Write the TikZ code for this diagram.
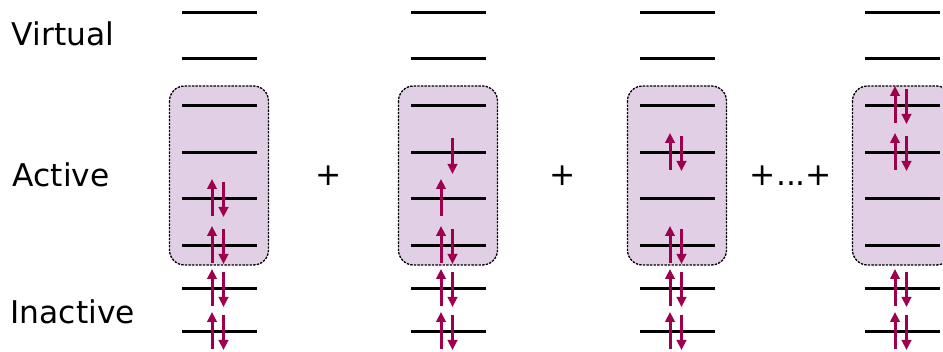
\documentclass[tikz,border=0pt]{standalone}
\usepackage{fontspec}
\setmainfont{DejaVu Sans}
\usetikzlibrary{arrows.meta}
\definecolor{spin}{RGB}{158,0,78}
\definecolor{actfill}{RGB}{225,208,229}
\newcommand\spinup[2]{\draw[spinarrow] (#1-7.5,#2+17) -- (#1-7.5,#2-20);}
\newcommand\spindown[2]{\draw[spinarrow] (#1+4,#2-17) -- (#1+4,#2+18);}
\newcommand\spinpair[2]{\spinup{#1}{#2}\spindown{#1}{#2}}
\begin{document}
\begin{tikzpicture}[x=1pt,y=-1pt,
  lvl/.style={line width=3pt},
  spinarrow/.style={draw=spin, line width=3pt, -{Triangle[length=10pt,width=9.5pt]}},
  actbox/.style={draw=black, fill=actfill, line width=1.3pt, dash pattern=on 2.4pt off 1.2pt, rounded corners=15pt},
  lab/.style={font=\fontsize{31.3}{36}\selectfont, inner sep=0pt, anchor=base west},
  plus/.style={font=\fontsize{31.3}{36}\selectfont, inner sep=0pt, anchor=base}]
\useasboundingbox (0,0) rectangle (943,352);
\clip (0,0) rectangle (943,352);

% labels
\node[lab] (virt) at (11.5,45.5) {Virtual};
\node[lab] (act) at (12.5,186.5) {Active};
\node[lab] (inact) at (10.5,323.5) {Inactive};
\node[plus] (p1) at (328.5,186) {+};
\node[plus] (p2) at (562.5,186) {+};
\node[plus] (p3) at (791,186) {+...+};

% active-space boxes
\foreach \cx in {219.5,448.5,677.5,902.5}{
  \draw[actbox] (\cx-50,86) rectangle (\cx+49,265);
}
% levels
\foreach \cx in {219.5,448.5,677.5,902.5}{
  \foreach \ly in {13,59,106,153,199,246,289,332}{
    \draw[lvl] (\cx-37.5,\ly) -- (\cx+37.5,\ly);
  }
  \spinpair{\cx}{289}
  \spinpair{\cx}{332}
}
% column 1
\spinpair{219.5}{199}
\spinpair{219.5}{246}
% column 2
\spinpair{448.5}{246}
\spinup{448.5}{199}
\draw[spinarrow] (452.5,138) -- (452.5,174);
% column 3
\spinpair{677.5}{153}
\spinpair{677.5}{246}
% column 4
\spinpair{902.5}{106}
\spinpair{902.5}{153}
\end{tikzpicture}
\end{document}
